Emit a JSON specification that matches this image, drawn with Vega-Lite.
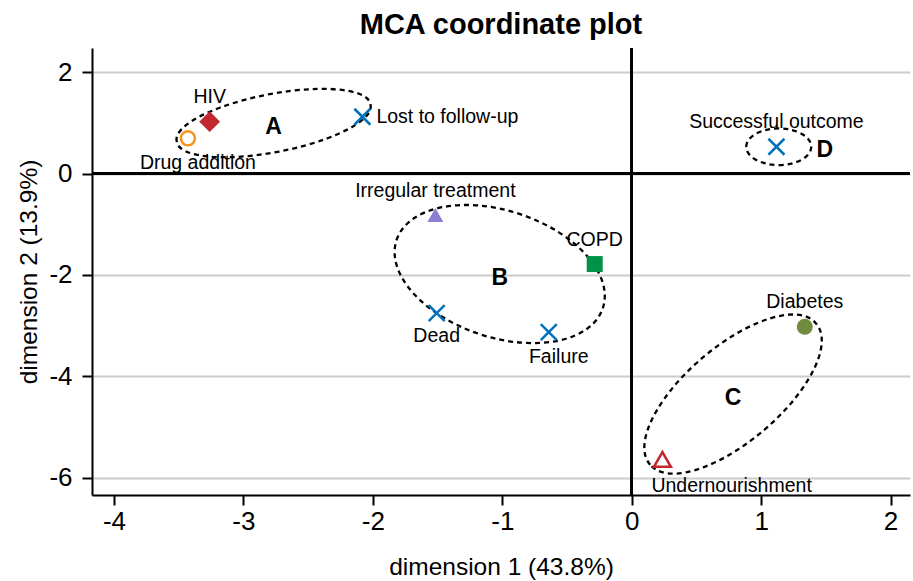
{
  "$schema": "https://vega.github.io/schema/vega-lite/v6.json",
  "width": 818,
  "height": 447,
  "autosize": {"type": "none"},
  "padding": {"left": 92, "top": 48, "right": 3, "bottom": 86},
  "background": "white",
  "title": {"text": "MCA coordinate plot", "font": "Liberation Sans", "fontSize": 29, "fontWeight": "bold", "color": "black", "anchor": "middle", "frame": "group", "baseline": "alphabetic", "offset": 14, "dy": 30},
  "config": {
    "view": {"stroke": null},
    "axis": {
      "domainColor": "black", "domainWidth": 2, "tickColor": "black", "tickWidth": 2, "tickSize": 10,
      "labelFont": "Liberation Sans", "labelFontSize": 26, "labelColor": "black",
      "titleFont": "Liberation Sans", "titleFontSize": 24.5, "titleFontWeight": "normal", "titleColor": "black",
      "labelExpr": "'' + datum.value"
    },
    "axisX": {"grid": false, "labelPadding": 3, "titlePadding": 21},
    "axisY": {"grid": true, "gridColor": "#CCCCCC", "gridWidth": 2, "labelPadding": 10, "titlePadding": 7},
    "text": {"font": "Liberation Sans", "fontSize": 19.5, "color": "black", "baseline": "middle"}
  },
  "data": {"values": [
    {"label": "HIV", "x": -3.261, "y": 1.023, "pos": "N"},
    {"label": "Drug addition", "x": -3.429, "y": 0.695, "pos": "SE"},
    {"label": "Lost to follow-up", "x": -2.081, "y": 1.121, "pos": "E"},
    {"label": "Successful outcome", "x": 1.118, "y": 0.529, "pos": "N"},
    {"label": "Irregular treatment", "x": -1.517, "y": -0.819, "pos": "N"},
    {"label": "COPD", "x": -0.286, "y": -1.787, "pos": "N"},
    {"label": "Dead", "x": -1.507, "y": -2.754, "pos": "S"},
    {"label": "Failure", "x": -0.641, "y": -3.129, "pos": "SE"},
    {"label": "Diabetes", "x": 1.337, "y": -3.025, "pos": "N"},
    {"label": "Undernourishment", "x": 0.237, "y": -5.643, "pos": "SL"}
  ]},
  "layer": [
    {
      "mark": {"type": "rule", "color": "black", "strokeWidth": 2},
      "encoding": {
        "x": {"datum": 0, "type": "quantitative", "scale": {"domain": [-4.17, 2.15], "nice": false, "zero": false}, "title": "dimension 1 (43.8%)", "axis": {"values": [-4, -3, -2, -1, 0, 1, 2]}}
      }
    },
    {
      "mark": {"type": "rule", "color": "black", "strokeWidth": 2},
      "encoding": {
        "y": {"datum": 0, "type": "quantitative", "scale": {"domain": [-6.345, 2.478], "nice": false, "zero": false}, "title": "dimension 2 (13.9%)", "axis": {"values": [-6, -4, -2, 0, 2]}}
      }
    },
    {
      "data": {"values": [
        {"cluster": "A", "x": -2.767, "y": 0.997},
        {"cluster": "B", "x": -1.020, "y": -1.984},
        {"cluster": "C", "x": 0.783, "y": -4.353},
        {"cluster": "D", "x": 1.136, "y": 0.529}
      ]},
      "layer": [
        {
          "mark": {"type": "point", "filled": false, "stroke": "black", "strokeWidth": 2.3, "strokeDash": [5, 4], "size": 4, "opacity": 1},
          "encoding": {
            "x": {"field": "x", "type": "quantitative", "title": "dimension 1 (43.8%)"},
            "y": {"field": "y", "type": "quantitative", "title": "dimension 2 (13.9%)"},
            "shape": {"field": "cluster", "type": "nominal", "legend": null, "scale": {"domain": ["A", "B", "C", "D", "HIV", "Irregular treatment", "COPD", "Diabetes", "Drug addition", "Undernourishment"], "range": [
              "M -96.8 18.6 A 98.6 28.4 -10.85 1 1 96.8 -18.6 A 98.6 28.4 -10.85 1 1 -96.8 18.6 Z",
              "M -103.2 -33.9 A 108.6 63.3 18.2 1 1 103.2 33.9 A 108.6 63.3 18.2 1 1 -103.2 -33.9 Z",
              "M -82.9 70.6 A 108.9 46.8 -40.4 1 1 82.9 -70.6 A 108.9 46.8 -40.4 1 1 -82.9 70.6 Z",
              "M -32.5 0 A 32.5 18.3 0 1 1 32.5 0 A 32.5 18.3 0 1 1 -32.5 0 Z",
              "M 0 -1.3 L 1.3 0 L 0 1.3 L -1.3 0 Z", "triangle-up", "square", "circle",
              "circle", "M 0 -1.05 L -1.21 1.05 L 1.21 1.05 Z"
            ]}}
          }
        },
        {
          "transform": [{"filter": "datum.cluster != 'D'"}],
          "mark": {"type": "text", "fontWeight": "bold", "fontSize": 23, "dy": 4},
          "encoding": {
            "x": {"field": "x", "type": "quantitative", "title": "dimension 1 (43.8%)"},
            "y": {"field": "y", "type": "quantitative", "title": "dimension 2 (13.9%)"},
            "text": {"field": "cluster"}
          }
        },
        {
          "transform": [{"filter": "datum.cluster == 'D'"}],
          "mark": {"type": "text", "fontWeight": "bold", "fontSize": 23, "dx": 46, "dy": 3},
          "encoding": {
            "x": {"field": "x", "type": "quantitative", "title": "dimension 1 (43.8%)"},
            "y": {"field": "y", "type": "quantitative", "title": "dimension 2 (13.9%)"},
            "text": {"field": "cluster"}
          }
        }
      ]
    },
    {
      "transform": [{"filter": {"field": "label", "oneOf": ["HIV", "Irregular treatment", "COPD", "Diabetes"]}}],
      "mark": {"type": "point", "filled": true, "opacity": 1, "size": 256},
      "encoding": {
        "x": {"field": "x", "type": "quantitative", "title": "dimension 1 (43.8%)"},
        "y": {"field": "y", "type": "quantitative", "title": "dimension 2 (13.9%)"},
        "shape": {"field": "label", "type": "nominal", "legend": null, "scale": {"domain": ["A", "B", "C", "D", "HIV", "Irregular treatment", "COPD", "Diabetes", "Drug addition", "Undernourishment"], "range": [
              "M -96.8 18.6 A 98.6 28.4 -10.85 1 1 96.8 -18.6 A 98.6 28.4 -10.85 1 1 -96.8 18.6 Z",
              "M -103.2 -33.9 A 108.6 63.3 18.2 1 1 103.2 33.9 A 108.6 63.3 18.2 1 1 -103.2 -33.9 Z",
              "M -82.9 70.6 A 108.9 46.8 -40.4 1 1 82.9 -70.6 A 108.9 46.8 -40.4 1 1 -82.9 70.6 Z",
              "M -32.5 0 A 32.5 18.3 0 1 1 32.5 0 A 32.5 18.3 0 1 1 -32.5 0 Z",
              "M 0 -1.3 L 1.3 0 L 0 1.3 L -1.3 0 Z", "triangle-up", "square", "circle",
              "circle", "M 0 -1.05 L -1.21 1.05 L 1.21 1.05 Z"
            ]}},
        "color": {"field": "label", "type": "nominal", "legend": null, "scale": {"domain": ["HIV", "Irregular treatment", "COPD", "Diabetes", "Drug addition", "Undernourishment"], "range": ["#C1272D", "#8A7FD4", "#009245", "#718C3E", "#F7931E", "#C1272D"]}}
      }
    },
    {
      "transform": [{"filter": {"field": "label", "oneOf": ["Drug addition", "Undernourishment"]}}],
      "mark": {"type": "point", "filled": false, "opacity": 1, "strokeWidth": 2.5, "size": 196},
      "encoding": {
        "x": {"field": "x", "type": "quantitative", "title": "dimension 1 (43.8%)"},
        "y": {"field": "y", "type": "quantitative", "title": "dimension 2 (13.9%)"},
        "shape": {"field": "label", "type": "nominal", "legend": null, "scale": {"domain": ["A", "B", "C", "D", "HIV", "Irregular treatment", "COPD", "Diabetes", "Drug addition", "Undernourishment"], "range": [
              "M -96.8 18.6 A 98.6 28.4 -10.85 1 1 96.8 -18.6 A 98.6 28.4 -10.85 1 1 -96.8 18.6 Z",
              "M -103.2 -33.9 A 108.6 63.3 18.2 1 1 103.2 33.9 A 108.6 63.3 18.2 1 1 -103.2 -33.9 Z",
              "M -82.9 70.6 A 108.9 46.8 -40.4 1 1 82.9 -70.6 A 108.9 46.8 -40.4 1 1 -82.9 70.6 Z",
              "M -32.5 0 A 32.5 18.3 0 1 1 32.5 0 A 32.5 18.3 0 1 1 -32.5 0 Z",
              "M 0 -1.3 L 1.3 0 L 0 1.3 L -1.3 0 Z", "triangle-up", "square", "circle",
              "circle", "M 0 -1.05 L -1.21 1.05 L 1.21 1.05 Z"
            ]}},
        "color": {"field": "label", "type": "nominal", "legend": null, "scale": {"domain": ["HIV", "Irregular treatment", "COPD", "Diabetes", "Drug addition", "Undernourishment"], "range": ["#C1272D", "#8A7FD4", "#009245", "#718C3E", "#F7931E", "#C1272D"]}}
      }
    },
    {
      "transform": [{"filter": {"field": "label", "oneOf": ["Lost to follow-up", "Successful outcome", "Dead", "Failure"]}}],
      "mark": {"type": "point", "filled": false, "opacity": 1, "strokeWidth": 2.5, "size": 256, "shape": "M -1 -1 L 1 1 M -1 1 L 1 -1", "color": "#0072BC"},
      "encoding": {
        "x": {"field": "x", "type": "quantitative", "title": "dimension 1 (43.8%)"},
        "y": {"field": "y", "type": "quantitative", "title": "dimension 2 (13.9%)"}
      }
    },
    {
      "transform": [{"filter": "datum.pos == 'N'"}],
      "mark": {"type": "text", "dy": -24.5},
      "encoding": {
        "x": {"field": "x", "type": "quantitative", "title": "dimension 1 (43.8%)"},
        "y": {"field": "y", "type": "quantitative", "title": "dimension 2 (13.9%)"},
        "text": {"field": "label"}
      }
    },
    {
      "transform": [{"filter": "datum.pos == 'S'"}],
      "mark": {"type": "text", "dy": 23},
      "encoding": {
        "x": {"field": "x", "type": "quantitative", "title": "dimension 1 (43.8%)"},
        "y": {"field": "y", "type": "quantitative", "title": "dimension 2 (13.9%)"},
        "text": {"field": "label"}
      }
    },
    {
      "transform": [{"filter": "datum.pos == 'SE'"}],
      "mark": {"type": "text", "dx": 10, "dy": 25},
      "encoding": {
        "x": {"field": "x", "type": "quantitative", "title": "dimension 1 (43.8%)"},
        "y": {"field": "y", "type": "quantitative", "title": "dimension 2 (13.9%)"},
        "text": {"field": "label"}
      }
    },
    {
      "transform": [{"filter": "datum.pos == 'SL'"}],
      "mark": {"type": "text", "align": "left", "dx": -11, "dy": 27},
      "encoding": {
        "x": {"field": "x", "type": "quantitative", "title": "dimension 1 (43.8%)"},
        "y": {"field": "y", "type": "quantitative", "title": "dimension 2 (13.9%)"},
        "text": {"field": "label"}
      }
    },
    {
      "transform": [{"filter": "datum.pos == 'E'"}],
      "mark": {"type": "text", "align": "left", "dx": 14},
      "encoding": {
        "x": {"field": "x", "type": "quantitative", "title": "dimension 1 (43.8%)"},
        "y": {"field": "y", "type": "quantitative", "title": "dimension 2 (13.9%)"},
        "text": {"field": "label"}
      }
    }
  ]
}
